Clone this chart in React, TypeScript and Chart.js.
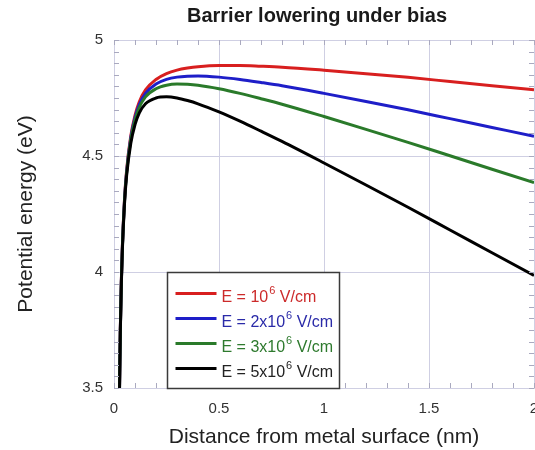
import React, { useEffect, useRef } from "react";
import { Chart, registerables } from "chart.js";

Chart.register(...registerables);

// Distance from metal surface (nm)
const X_NM = [0.025, 0.03, 0.035, 0.04, 0.05, 0.06, 0.08, 0.1, 0.12, 0.15, 0.2, 0.25, 0.3, 0.35, 0.4, 0.5, 0.6, 0.7, 0.8, 1.0, 1.2, 1.4, 1.6, 1.8, 2.0];

// Potential energy (eV) for each field
const E_1E6 = [3.42, 3.747, 3.963, 4.114, 4.313, 4.438, 4.587, 4.675, 4.733, 4.785, 4.83, 4.855, 4.87, 4.879, 4.885, 4.89, 4.89, 4.887, 4.883, 4.87, 4.855, 4.839, 4.821, 4.803, 4.785];
const E_2E6 = [3.415, 3.744, 3.959, 4.11, 4.308, 4.432, 4.579, 4.665, 4.721, 4.77, 4.81, 4.83, 4.84, 4.844, 4.845, 4.84, 4.83, 4.817, 4.803, 4.77, 4.735, 4.699, 4.661, 4.623, 4.585];
const E_3E6 = [3.41, 3.741, 3.956, 4.106, 4.303, 4.426, 4.571, 4.655, 4.709, 4.755, 4.79, 4.805, 4.81, 4.809, 4.805, 4.79, 4.77, 4.747, 4.723, 4.67, 4.615, 4.559, 4.501, 4.443, 4.385];
const E_5E6 = [3.4, 3.735, 3.949, 4.098, 4.293, 4.414, 4.555, 4.635, 4.685, 4.725, 4.75, 4.755, 4.75, 4.739, 4.725, 4.69, 4.65, 4.607, 4.563, 4.47, 4.375, 4.279, 4.181, 4.083, 3.985];

const SERIES = [E_1E6, E_2E6, E_3E6, E_5E6];
const SERIES_LABELS = ["E = 10⁶ V/cm", "E = 2x10⁶ V/cm", "E = 3x10⁶ V/cm", "E = 5x10⁶ V/cm"];
const LEGEND_PREFIX = ["E = 10", "E = 2x10", "E = 3x10", "E = 5x10"];
const LEGEND_SUP = "6";
const LEGEND_SUFFIX = " V/cm";
const LINE_COLORS = ["#d81f1f", "#1e1ec8", "#2a7a2a", "#000000"];
const TEXT_COLORS = ["#cc2a2a", "#2a2aa8", "#2e7a2e", "#222222"];

const TITLE = "Barrier lowering under bias";
const X_TITLE = "Distance from metal surface (nm)";
const Y_TITLE = "Potential energy (eV)";

const FONT = '"Liberation Sans", Arial, Helvetica, sans-serif';
const GRID = "#cfcfe3";

const fmt = (v: any) => String(Number(v));

const minorTicks = {
  id: "minorTicks",
  afterDatasetsDraw(chart: any) {
    const { ctx, chartArea, scales } = chart;
    const xs = scales.x;
    const ys = scales.y;
    ctx.save();
    ctx.strokeStyle = "#a9a9bf";
    ctx.lineWidth = 1;
    ctx.beginPath();
    for (let i = 0; i <= 20; i++) {
      const px = Math.round(xs.getPixelForValue(i * 0.1)) + 0.5;
      ctx.moveTo(px, chartArea.bottom);
      ctx.lineTo(px, chartArea.bottom - 5);
      ctx.moveTo(px, chartArea.top);
      ctx.lineTo(px, chartArea.top + 5);
    }
    for (let i = 0; i <= 30; i++) {
      const py = Math.round(ys.getPixelForValue(3.5 + i * 0.05)) + 0.5;
      ctx.moveTo(chartArea.left, py);
      ctx.lineTo(chartArea.left + 5, py);
      ctx.moveTo(chartArea.right, py);
      ctx.lineTo(chartArea.right - 5, py);
    }
    ctx.stroke();
    ctx.restore();
  },
};

const boxLegend = {
  id: "boxLegend",
  afterDraw(chart: any) {
    const { ctx, scales } = chart;
    const left = Math.round(scales.x.getPixelForValue(0.25)) + 0.5;
    const right = Math.round(scales.x.getPixelForValue(1.07)) + 0.5;
    const top = Math.round(scales.y.getPixelForValue(4.0)) + 0.5;
    const bottom = Math.round(scales.y.getPixelForValue(3.5)) + 0.5;
    ctx.save();
    ctx.fillStyle = "#ffffff";
    ctx.fillRect(left, top, right - left, bottom - top);
    ctx.strokeStyle = "#3a3a3a";
    ctx.lineWidth = 1.5;
    ctx.strokeRect(left, top, right - left, bottom - top);
    const rowGap = (bottom - top - 21 - 20) / 3;
    LEGEND_PREFIX.forEach((prefix, i) => {
      const ly = top + 21 + i * rowGap;
      ctx.strokeStyle = LINE_COLORS[i];
      ctx.lineWidth = 3;
      ctx.beginPath();
      ctx.moveTo(left + 8, ly);
      ctx.lineTo(left + 49, ly);
      ctx.stroke();
      ctx.fillStyle = TEXT_COLORS[i];
      ctx.textBaseline = "middle";
      ctx.textAlign = "left";
      let tx = left + 54;
      const ty = ly + 4;
      ctx.font = `16px ${FONT}`;
      ctx.fillText(prefix, tx, ty);
      tx += ctx.measureText(prefix).width + 1;
      ctx.font = `11px ${FONT}`;
      ctx.fillText(LEGEND_SUP, tx, ty - 7);
      tx += ctx.measureText(LEGEND_SUP).width;
      ctx.font = `16px ${FONT}`;
      ctx.fillText(LEGEND_SUFFIX, tx, ty);
    });
    ctx.restore();
  },
};

export default function App() {
  const ref = useRef<HTMLCanvasElement>(null);

  useEffect(() => {
    const canvas = ref.current;
    if (!canvas) return;
    const chart = new Chart(canvas, {
      type: "line",
      data: {
        datasets: SERIES.map((vals, i) => ({
          label: SERIES_LABELS[i],
          data: X_NM.map((x, j) => ({ x, y: vals[j] })),
          borderColor: LINE_COLORS[i],
          backgroundColor: LINE_COLORS[i],
          borderWidth: 3,
          pointRadius: 0,
          cubicInterpolationMode: "monotone" as const,
          fill: false,
          order: SERIES.length - 1 - i,
        })),
      },
      options: {
        responsive: false,
        animation: false,
        devicePixelRatio: 1,
        layout: { padding: { left: 0, right: 0, top: 0, bottom: 0 } },
        plugins: {
          legend: { display: false },
          tooltip: { enabled: false },
          title: {
            display: true,
            text: TITLE,
            fullSize: true,
            color: "#1a1a1a",
            font: { family: FONT, size: 20, weight: "bold" },
            padding: { top: 4, bottom: 12 },
          },
        },
        scales: {
          x: {
            type: "linear",
            min: 0,
            max: 2,
            ticks: {
              stepSize: 0.5,
              color: "#333",
              font: { family: FONT, size: 15 },
              padding: 12,
              maxRotation: 0,
              callback: fmt,
            },
            grid: { color: GRID, drawTicks: false, lineWidth: 1 },
            border: { display: true, color: GRID },
            title: {
              display: true,
              text: X_TITLE,
              color: "#222",
              font: { family: FONT, size: 21 },
              padding: { top: 0, bottom: 0 },
            },
            afterFit: (s: any) => {
              s.height = 62;
            },
          },
          y: {
            type: "linear",
            min: 3.5,
            max: 5,
            ticks: {
              stepSize: 0.5,
              color: "#333",
              font: { family: FONT, size: 15 },
              padding: 11,
              callback: fmt,
            },
            grid: { color: GRID, drawTicks: false, lineWidth: 1 },
            border: { display: true, color: GRID },
            title: {
              display: true,
              text: Y_TITLE,
              color: "#222",
              font: { family: FONT, size: 21 },
              padding: { top: 14, bottom: 0 },
            },
            afterFit: (s: any) => {
              s.width = 114;
            },
          },
          yR: {
            type: "linear",
            position: "right",
            display: true,
            grid: { display: false, drawTicks: false },
            ticks: { display: false },
            border: { display: false },
            afterFit: (s: any) => {
              s.width = 100;
            },
          },
        },
      },
      plugins: [minorTicks, boxLegend],
    });
    return () => chart.destroy();
  }, []);

  return (
    <div
      style={{
        position: "fixed",
        left: 0,
        top: 0,
        width: 535,
        height: 450,
        overflow: "hidden",
        background: "#fff",
      }}
    >
      <canvas ref={ref} width={634} height={450} style={{ display: "block", width: 634, height: 450 }} />
    </div>
  );
}
